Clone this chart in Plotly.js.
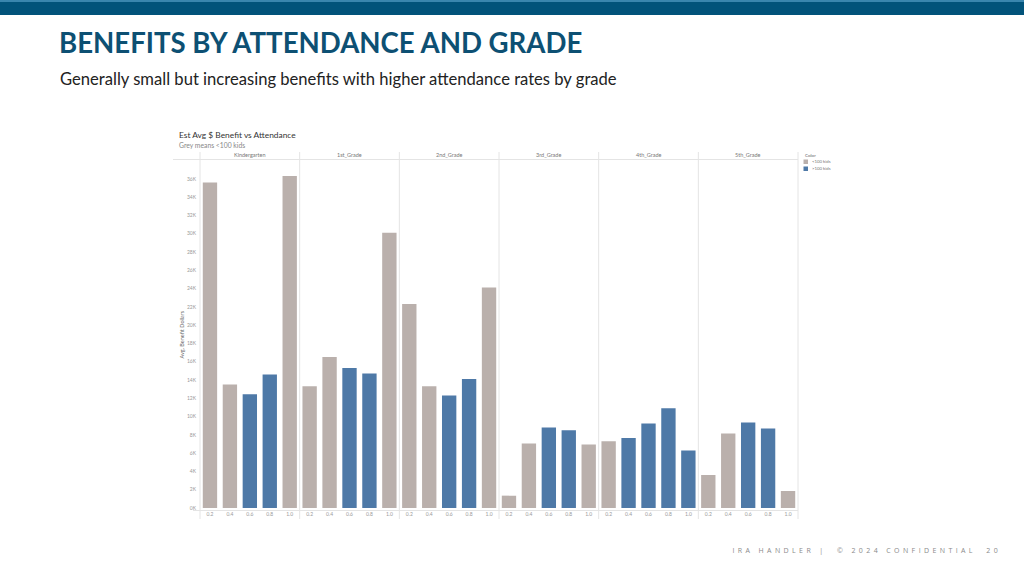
<!DOCTYPE html>
<html>
<head>
<meta charset="utf-8">
<script src="https://cdn.plot.ly/plotly-3.0.1.min.js"></script>
<style>
html,body{margin:0;padding:0;background:#fff;}
#chart{width:1024px;height:576px;}
</style>
</head>
<body>
<div id="chart"></div>
<script>
// ---- data ----
const grades = ['Kindergarten','1st_Grade','2nd_Grade','3rd_Grade','4th_Grade','5th_Grade'];
const attendance = ['0.2','0.4','0.6','0.8','1.0'];
const kindergarten = [35600, 13500, 12450, 14600, 36300];
const grade1 = [13300, 16500, 15300, 14700, 30100];
const grade2 = [22300, 13300, 12300, 14100, 24100];
const grade3 = [1350, 7050, 8800, 8500, 6950];
const grade4 = [7300, 7650, 9250, 10900, 6300];
const grade5 = [3600, 8150, 9350, 8700, 1850];
const kidsK = ['<100 kids','<100 kids','>100 kids','>100 kids','<100 kids'];
const kids1 = ['<100 kids','<100 kids','>100 kids','>100 kids','<100 kids'];
const kids2 = ['<100 kids','<100 kids','>100 kids','>100 kids','<100 kids'];
const kids3 = ['<100 kids','<100 kids','>100 kids','>100 kids','<100 kids'];
const kids4 = ['<100 kids','>100 kids','>100 kids','>100 kids','>100 kids'];
const kids5 = ['<100 kids','<100 kids','>100 kids','>100 kids','<100 kids'];
const legendLabels = ['<100 kids','>100 kids'];
const yTickVals = [0,2000,4000,6000,8000,10000,12000,14000,16000,18000,20000,22000,24000,26000,28000,30000,32000,34000,36000];
const yTickText = ['0K','2K','4K','6K','8K','10K','12K','14K','16K','18K','20K','22K','24K','26K','28K','30K','32K','34K','36K'];

// ---- styling ----
const colorMap = {'<100 kids':'#bab0ac','>100 kids':'#4e79a7'};
const W = 1024, H = 576;
const L = 200, R = 798, T = 160, B = 508;
const px2x = p => (p - L) / (R - L);
const py2y = p => (B - p) / (B - T);
const chartFont = 'Lato, "Open Sans", sans-serif';

const seriesVals = [kindergarten, grade1, grade2, grade3, grade4, grade5];
const seriesKids = [kidsK, kids1, kids2, kids3, kids4, kids5];

const traces = [];
const layout = {
  width: W, height: H,
  margin: {l: L, r: W - R, t: T, b: H - B, pad: 0},
  paper_bgcolor: '#fff', plot_bgcolor: '#fff',
  showlegend: false,
  bargap: 0.28,
  font: {family: chartFont, color: '#999'},
  title: {
    text: '<b>BENEFITS BY ATTENDANCE AND GRADE</b>',
    xref: 'container', yref: 'container',
    x: 59 / W, xanchor: 'left',
    y: 1 - 43 / H, yanchor: 'middle',
    font: {family: 'Lato, "Open Sans", sans-serif', size: 27.6, color: '#0d5073'}
  },
  yaxis: {
    range: [0, 38050],
    tickvals: yTickVals, ticktext: yTickText,
    tickfont: {size: 5, color: '#9a9a9a', family: chartFont},
    showgrid: false, zeroline: false, showline: false,
    ticks: '', ticklabelstandoff: 3,
    fixedrange: true
  },
  shapes: [],
  annotations: []
};

const n = grades.length;
grades.forEach((g, i) => {
  const ax = i === 0 ? 'x' : 'x' + (i + 1);
  const axKey = i === 0 ? 'xaxis' : 'xaxis' + (i + 1);
  traces.push({
    type: 'bar',
    name: g,
    x: attendance,
    y: seriesVals[i],
    xaxis: ax, yaxis: 'y',
    marker: {color: seriesKids[i].map(k => colorMap[k]), line: {width: 0}},
    hoverinfo: 'x+y'
  });
  layout[axKey] = {
    domain: [i / n, (i + 1) / n],
    anchor: 'y',
    type: 'category',
    categoryorder: 'array', categoryarray: attendance,
    range: [-0.5, attendance.length - 0.5],
    tickfont: {size: 5, color: '#9a9a9a', family: chartFont},
    showgrid: false, zeroline: false, showline: false,
    ticks: '', ticklabelstandoff: 2,
    fixedrange: true
  };
  // panel header label
  layout.annotations.push({
    text: g, xref: 'paper', yref: 'paper',
    x: (i + 0.5) / n, y: py2y(155.5),
    xanchor: 'center', yanchor: 'middle', showarrow: false,
    font: {size: 5.5, color: '#777', family: chartFont}
  });
});

// panel dividers
for (let k = 0; k <= n; k++) {
  layout.shapes.push({
    type: 'line', xref: 'paper', yref: 'paper',
    x0: k / n, x1: k / n, y0: py2y(152), y1: py2y(519),
    line: {color: '#e4e4e4', width: 1}
  });
}
// header underline
layout.shapes.push({
  type: 'line', xref: 'paper', yref: 'paper',
  x0: px2x(173), x1: 1, y0: py2y(159.5), y1: py2y(159.5),
  line: {color: '#e4e4e4', width: 1}
});
// bottom axis line
layout.shapes.push({
  type: 'line', xref: 'paper', yref: 'paper',
  x0: px2x(193), x1: 1, y0: py2y(510.5), y1: py2y(510.5),
  line: {color: '#e4e4e4', width: 1}
});
// top banner
layout.shapes.push({
  type: 'rect', xref: 'paper', yref: 'paper', layer: 'above',
  x0: px2x(0), x1: px2x(W), y0: py2y(15), y1: py2y(0),
  fillcolor: '#02537a', line: {width: 0}
});
layout.shapes.push({
  type: 'rect', xref: 'paper', yref: 'paper', layer: 'above',
  x0: px2x(0), x1: px2x(W), y0: py2y(2), y1: py2y(0),
  fillcolor: '#3a86ae', line: {width: 0}
});
// legend swatches
legendLabels.forEach((lab, j) => {
  const top = 159.5 + j * 7;
  layout.shapes.push({
    type: 'rect', xref: 'paper', yref: 'paper',
    x0: px2x(803.5), x1: px2x(808), y0: py2y(top + 4.5), y1: py2y(top),
    fillcolor: colorMap[lab], line: {width: 0}
  });
  layout.annotations.push({
    text: lab, xref: 'paper', yref: 'paper',
    x: px2x(809.5), y: py2y(top + 2.3),
    xanchor: 'left', yanchor: 'middle', showarrow: false,
    font: {size: 4.3, color: '#777', family: chartFont}
  });
});
layout.annotations.push({
  text: 'Color', xref: 'paper', yref: 'paper',
  x: px2x(802.5), y: py2y(155.5),
  xanchor: 'left', yanchor: 'middle', showarrow: false,
  font: {size: 4.5, color: '#666', family: chartFont}
});
// chart title / subtitle
layout.annotations.push({
  text: 'Est Avg $ Benefit vs Attendance', xref: 'paper', yref: 'paper',
  x: px2x(176.5), y: py2y(134.5),
  xanchor: 'left', yanchor: 'middle', showarrow: false,
  font: {size: 8.4, color: '#333', family: chartFont}
});
layout.annotations.push({
  text: 'Grey means &lt;100 kids', xref: 'paper', yref: 'paper',
  x: px2x(176.5), y: py2y(145),
  xanchor: 'left', yanchor: 'middle', showarrow: false,
  font: {size: 6.8, color: '#888', family: chartFont}
});
// y axis title
layout.annotations.push({
  text: 'Avg. Benefit Dollars', xref: 'paper', yref: 'paper',
  x: px2x(181.5), y: py2y(335),
  xanchor: 'center', yanchor: 'middle', textangle: -90, showarrow: false,
  font: {size: 5.5, color: '#666', family: chartFont}
});
// slide subtitle
layout.annotations.push({
  text: 'Generally small but increasing benefits with higher attendance rates by grade',
  xref: 'paper', yref: 'paper',
  x: px2x(58), y: py2y(79),
  xanchor: 'left', yanchor: 'middle', showarrow: false,
  font: {size: 16.6, color: '#222', family: 'Lato, "Open Sans", sans-serif'}
});
// footer (last annotation)
layout.annotations.push({
  text: 'IRA HANDLER |  © 2024 CONFIDENTIAL  20',
  xref: 'paper', yref: 'paper',
  x: px2x(867), y: py2y(550),
  xanchor: 'center', yanchor: 'middle', showarrow: false,
  font: {size: 7, color: '#8a8a8a', family: '"Open Sans", sans-serif'}
});

// letter-spacing for footer
const lastIdx = layout.annotations.length - 1;
const st = document.createElement('style');
st.textContent = 'g.annotation[data-index="' + lastIdx + '"] text{letter-spacing:3.4px;}';
document.head.appendChild(st);

Plotly.newPlot('chart', traces, layout, {staticPlot: true, displayModeBar: false});
</script>
</body>
</html>
